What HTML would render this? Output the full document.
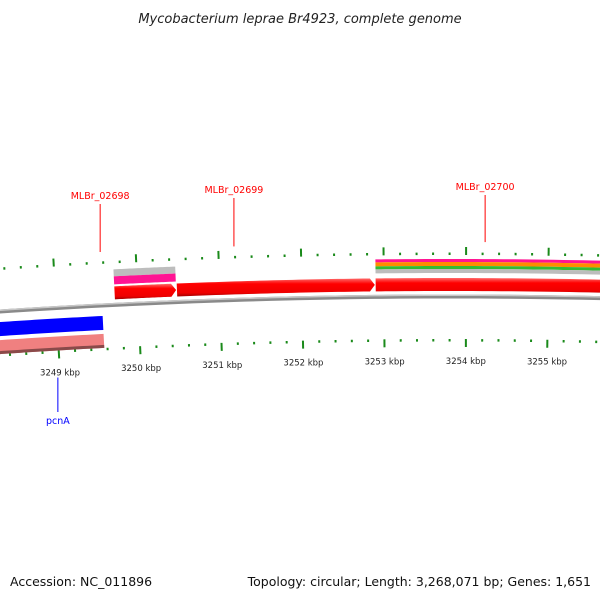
<!DOCTYPE html>
<html><head><meta charset="utf-8"><style>
html,body{margin:0;padding:0;background:#fff;}
svg{display:block;font-family:"DejaVu Sans","Liberation Sans",sans-serif;}
</style></head><body>
<svg id="chart" width="600" height="600" viewBox="0 0 600 600">
<defs>
<linearGradient id="gRed" x1="0" y1="0" x2="0" y2="1"><stop offset="0" stop-color="#ff6a6a"/><stop offset="0.3" stop-color="#ff0000"/><stop offset="0.8" stop-color="#ee0000"/><stop offset="1" stop-color="#a00000"/></linearGradient>
</defs>
<text x="300" y="23" text-anchor="middle" font-size="13" font-style="italic" fill="#222">Mycobacterium leprae Br4923, complete genome</text>
<g id="ticks"></g>
<g id="genes"></g>
<g id="labels"></g>
<text x="10" y="586" font-size="12.5" fill="#111">Accession: NC_011896</text>
<text x="591" y="586" font-size="12.5" fill="#111" text-anchor="end">Topology: circular; Length: 3,268,071 bp; Genes: 1,651</text>
</svg>
<script>
// data (kbp positions)
const tickLabels = [3249, 3250, 3251, 3252, 3253, 3254, 3255];
const tickStart = 3248.2, tickEnd = 3256.0, tickStep = 0.2;
const geneNames = ["MLBr_02698", "MLBr_02699", "MLBr_02700", "pcnA"];
const geneStarts = [3249.72, 3250.48, 3252.90, 3248.0];
const geneEnds = [3250.47, 3252.89, 3256.5, 3249.56];
const geneStrand = [1, 1, 1, -1];
const featStarts = [3249.72, 3249.72, 3252.90, 3252.90, 3252.90, 3252.90, 3248.0];
const featEnds = [3250.47, 3250.47, 3256.5, 3256.5, 3256.5, 3256.5, 3249.56];
const featColors = ["#bdbdbd", "#ff1493", "#ff1493", "#ff8c00", "#33bb33", "#bdbdbd", "#f08080"];
const featIn = [-35, -28, -37, -34, -30, -27, 29];
const featOut = [-28, -20, -34, -30, -27, -23, 43];

// geometry
const R = 6750, cx = 450, cy = 296 + R, p0 = 3253.805, pxPerKbp = 82;
function ang(p){ return (p - p0) * pxPerKbp / R; }
function pt(p, off){ const r = R - off, t = ang(p); return [cx + r*Math.sin(t), cy - r*Math.cos(t)]; }
const NS = "http://www.w3.org/2000/svg";
function mk(tag, attrs, parent){ const e = document.createElementNS(NS, tag); for (const k in attrs) e.setAttribute(k, attrs[k]); parent.appendChild(e); return e; }
function band(p1, p2, o1, o2, arrow){
  const pts = [], n = 30;
  const tipLen = arrow ? 0.06 : 0;
  const e = p2 - tipLen;
  for (let i=0;i<=n;i++){ pts.push(pt(p1+(e-p1)*i/n, o1)); }
  if (arrow) pts.push(pt(p2, (o1+o2)/2));
  for (let i=n;i>=0;i--){ pts.push(pt(p1+(e-p1)*i/n, o2)); }
  return pts.map(q=>q[0].toFixed(2)+","+q[1].toFixed(2)).join(" ");
}
const tg = document.getElementById("ticks"), gg = document.getElementById("genes"), lg = document.getElementById("labels");

// backbone
const bb = mk("polygon", {points: band(3247.5, 3257, -1.5, 2.5, false), fill:"#8a8a8a"}, gg);


const bbh = mk("polygon", {points: band(3247.5, 3257, -1.5, 0, false), fill:"#c8c8c8"}, gg);



// ticks
for (let p = tickStart; p <= tickEnd + 1e-6; p += tickStep){
  const major = Math.abs(p - Math.round(p)) < 1e-6;
  const len = major ? 8 : 2.5;
  let a = pt(p, -41), b = pt(p, -41 - len);
  const t1 = mk("line", {x1:a[0], y1:a[1], x2:b[0], y2:b[1], stroke:"#1a8a1a", "stroke-width":2}, tg);
  
  
  a = pt(p, 43); b = pt(p, 43 + len);
  const t2 = mk("line", {x1:a[0], y1:a[1], x2:b[0], y2:b[1], stroke:"#1a8a1a", "stroke-width":2}, tg);
  
  
}
tickLabels.forEach(v=>{
  const q = pt(v, 66);
  const t = mk("text", {x:q[0], y:q[1]+2, "text-anchor":"middle", "font-size":8.5, fill:"#222"}, tg);
  t.textContent = v + " kbp";
  
  
});

// features (stripes)
for (let i=0;i<featStarts.length;i++){
  const f = mk("polygon", {points: band(featStarts[i], featEnds[i], featIn[i], featOut[i], false), fill: featColors[i]}, gg);
  
  
}
// salmon shading
const sh = mk("polygon", {points: band(3248.0, 3249.56, 40, 43, false), fill:"#8a4a4a"}, gg);



// genes
for (let i=0;i<geneNames.length;i++){
  let g;
  if (geneStrand[i] > 0){
    g = mk("polygon", {points: band(geneStarts[i], geneEnds[i], -18, -5, true), fill:"url(#gRed)"}, gg);
  } else {
    g = mk("polygon", {points: band(geneStarts[i], geneEnds[i], 11, 25, false), fill:"#0000ff"}, gg);
  }
  
  
}

// gene labels
const labelPos = [[3249.57, 196, -53], [3251.19, 190, -53], [3254.23, 187, -54], [3248.97, 421, 70]];
geneNames.forEach((n,i)=>{
  const fwd = geneStrand[i] > 0;
  const col = fwd ? "#ff0000" : "#0000ff";
  const lp = labelPos[i];
  const a = pt(lp[0], lp[2]);
  const lx = a[0];
  const ln = mk("line", {x1:a[0], y1:a[1], x2:lx, y2: fwd ? lp[1]+8 : lp[1]-9, stroke:col, "stroke-width":1}, lg);
  
  
  const t = mk("text", {x:lx, y:lp[1]+3, "text-anchor":"middle", "font-size":9.5, fill:col}, lg);
  t.textContent = n;
  
  
});
</script>
</body></html>
